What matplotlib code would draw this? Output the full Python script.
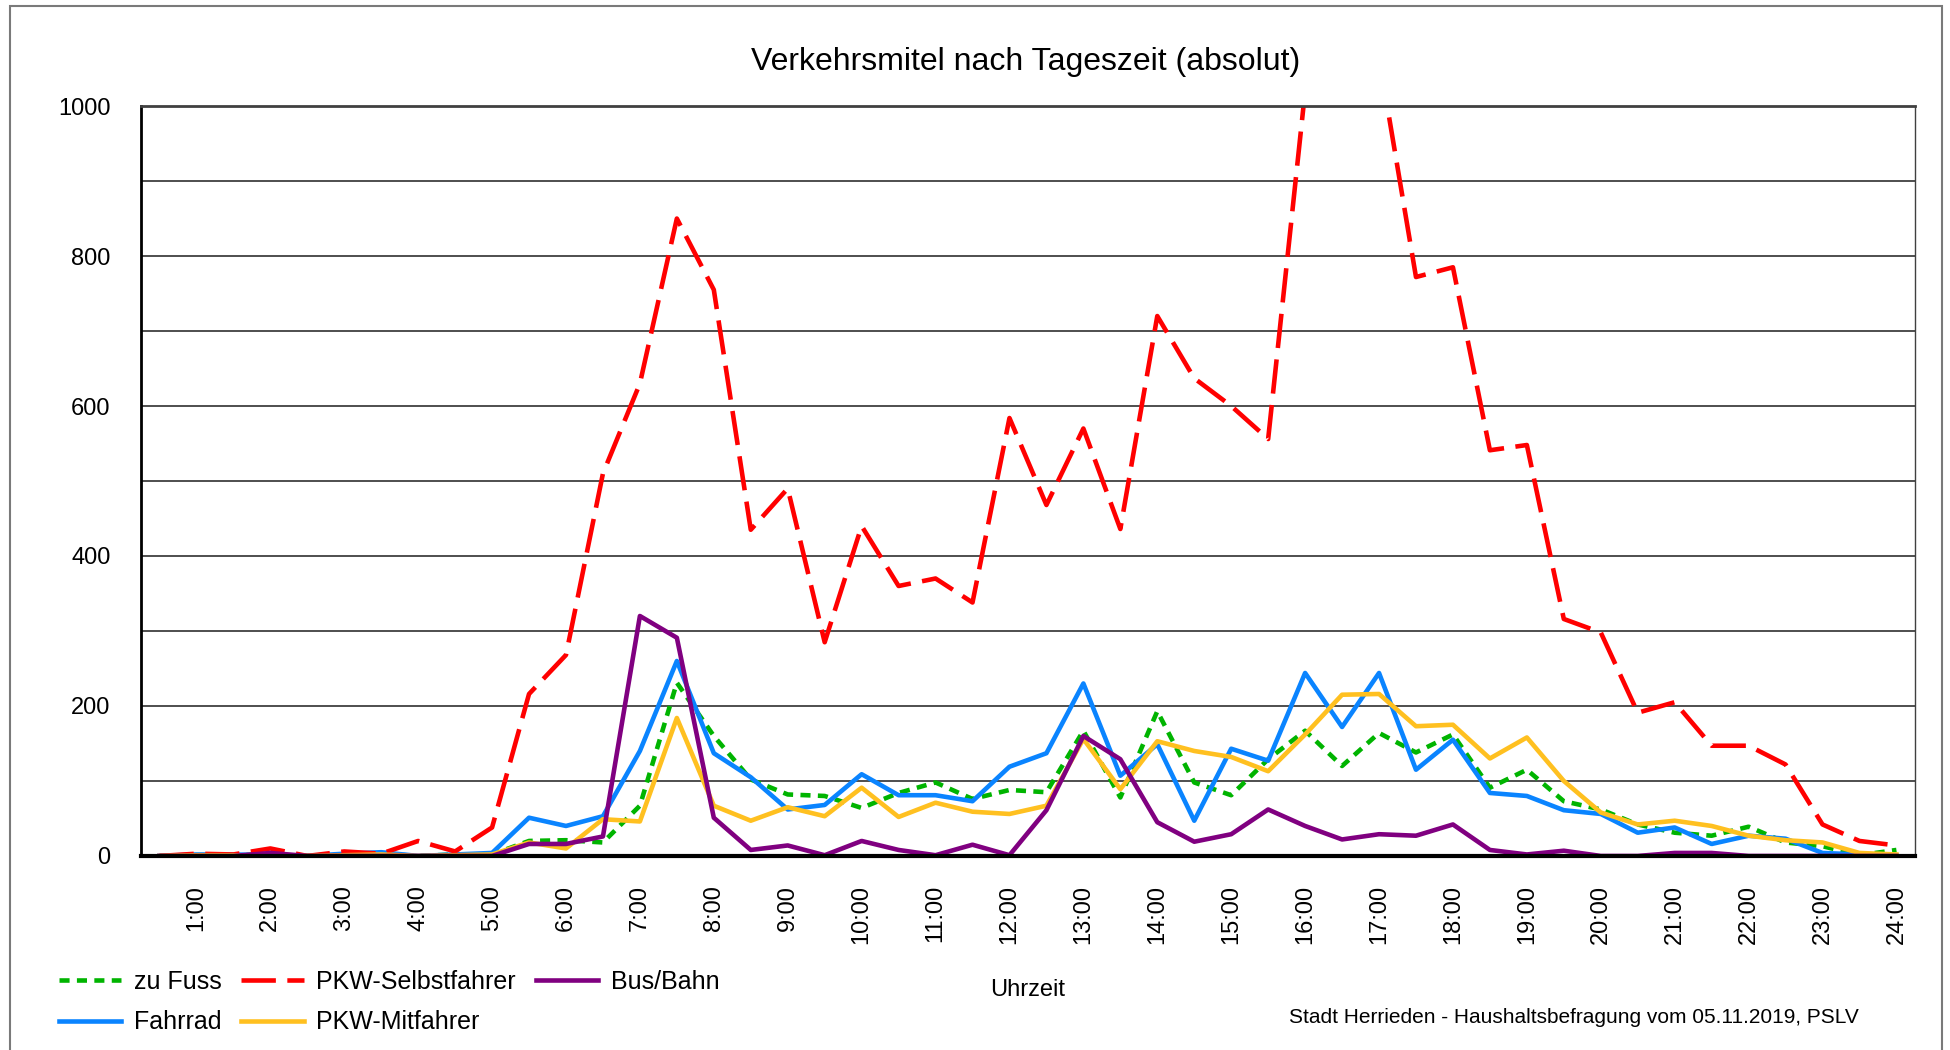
import numpy as np
import matplotlib.pyplot as plt
from matplotlib.patches import Rectangle

plt.rcParams['font.family'] = ['Liberation Sans', 'DejaVu Sans']

# half-hour slots from 0:30 to 24:00
zeiten = [f"{(m // 60)}:{m % 60:02d}" for m in range(30, 24 * 60 + 1, 30)]

zu_fuss = [0, 1, 1, 2, 0, 2, 3, 0, 2, 2, 20, 21, 18, 67, 231, 160, 102, 82, 80, 64,
           84, 98, 76, 88, 85, 167, 78, 193, 98, 81, 129, 167, 120, 164, 138, 162,
           91, 115, 73, 62, 42, 31, 27, 39, 18, 13, 1, 8]
fahrrad = [0, 2, 2, 1, 0, 3, 5, 0, 2, 4, 51, 40, 53, 140, 260, 137, 105, 62, 68, 109,
           81, 81, 73, 119, 137, 230, 107, 149, 47, 143, 127, 244, 172, 244, 115, 155,
           84, 80, 61, 56, 31, 38, 16, 27, 23, 4, 2, 0]
pkw_selbst = [0, 3, 2, 10, 0, 6, 3, 20, 6, 38, 216, 268, 510, 630, 850, 755, 435, 490,
              285, 440, 360, 370, 338, 584, 468, 570, 436, 720, 637, 600, 556, 1020,
              1120, 1065, 772, 785, 541, 548, 316, 298, 191, 205, 147, 147, 122, 42,
              20, 14]
pkw_mit = [0, 1, 1, 0, 0, 1, 2, 0, 1, 2, 18, 10, 49, 46, 184, 67, 47, 65, 53, 91,
           52, 71, 59, 56, 67, 156, 89, 153, 140, 132, 113, 162, 215, 216, 173, 175,
           130, 158, 100, 58, 42, 47, 40, 27, 21, 18, 4, 2]
bus_bahn = [0, 0, 0, 4, 0, 0, 0, 0, 0, 0, 16, 16, 26, 320, 291, 51, 8, 14, 1, 20,
            8, 1, 15, 1, 61, 160, 129, 45, 19, 29, 62, 40, 22, 29, 27, 42,
            8, 2, 7, 0, 0, 4, 4, 0, 0, 0, 0, 0]

fig = plt.figure(figsize=(19.5, 10.5), dpi=100)
ax = fig.add_axes([0.0723, 0.1848, 0.9097, 0.7142])

x = np.arange(len(zeiten))
lw = 3.3
ax.plot(x, zu_fuss, color='#00B400', lw=lw, dashes=(2.2, 1.6), label='zu Fuss')
ax.plot(x, fahrrad, color='#0A84FF', lw=lw, label='Fahrrad')
ax.plot(x, pkw_selbst, color='#FF0000', lw=lw, dashes=(7.5, 2.5), label='PKW-Selbstfahrer')
ax.plot(x, pkw_mit, color='#FFC020', lw=lw, label='PKW-Mitfahrer')
ax.plot(x, bus_bahn, color='#800080', lw=lw, label='Bus/Bahn')

ax.set_xlim(-0.5, len(zeiten) - 0.5)
ax.set_ylim(0, 1000)
ax.set_yticks(range(0, 1001, 200))
ax.set_yticks(range(100, 1000, 200), minor=True)
ax.yaxis.grid(True, which='both', color='#404040', lw=1.3)
ax.set_axisbelow(True)
ax.set_xticks(x[1::2])
ax.set_xticklabels(zeiten[1::2], rotation=90, fontsize=17)
ax.tick_params(axis='both', which='both', length=0)
ax.tick_params(axis='x', pad=21)
ax.tick_params(axis='y', pad=22, labelsize=17)

ax.spines['left'].set_linewidth(2)
ax.spines['bottom'].set_linewidth(3)
ax.spines['top'].set_color('#404040')
ax.spines['top'].set_linewidth(2)
ax.spines['right'].set_color('#404040')
ax.spines['right'].set_linewidth(1)

fig.text(0.526, 0.941, 'Verkehrsmitel nach Tageszeit (absolut)', ha='center', va='center', fontsize=23)
fig.text(0.527, 0.057, 'Uhrzeit', ha='center', va='center', fontsize=17)
fig.text(0.953, 0.031, 'Stadt Herrieden - Haushaltsbefragung vom 05.11.2019, PSLV',
         ha='right', va='center', fontsize=15)

handles, labels = ax.get_legend_handles_labels()
fig.legend(handles, labels, ncol=3, loc='upper left', bbox_to_anchor=(0.03, 0.076),
           frameon=False, fontsize=18, borderpad=0, borderaxespad=0,
           handlelength=2.5, handletextpad=0.5, columnspacing=0.8, labelspacing=0.65)

# outer chart frame
fig.add_artist(Rectangle((10 / 1950, -0.01), 1932 / 1950, 1 - 6 / 1050 + 0.01,
                         transform=fig.transFigure, fill=False, ec='#7a7a7a', lw=1.5))

fig.savefig('out.png', dpi=100)
